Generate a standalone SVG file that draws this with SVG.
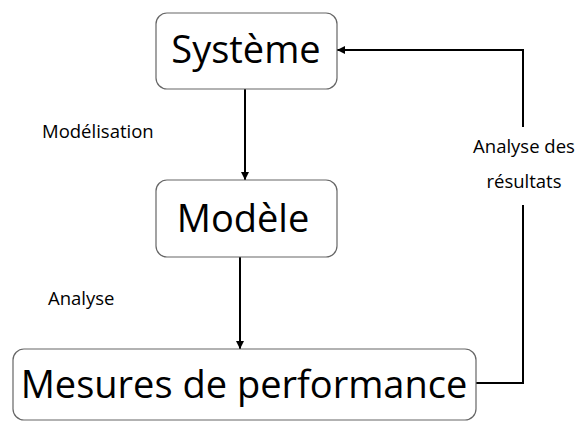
<svg xmlns="http://www.w3.org/2000/svg" width="579" height="421" viewBox="0 0 579 421">
  <style>
    .box { fill: #ffffff; stroke: #666666; stroke-width: 1.2; }
    .big { font-family: "Open Sans", "Noto Sans", sans-serif; font-size: 38px; fill: #000000; text-anchor: middle; }
    .lbl { font-family: "Open Sans", "Noto Sans", sans-serif; font-size: 18.5px; fill: #000000; }
    .edge { fill: none; stroke: #000000; stroke-width: 2; }
  </style>
  <defs>
    <marker id="arrow" viewBox="0 0 10 10" refX="10" refY="5" markerWidth="4" markerHeight="4" orient="auto" markerUnits="strokeWidth">
      <path d="M0,0 L10,5 L0,10 z" fill="#000000"/>
    </marker>
  </defs>
  <rect width="579" height="421" fill="#ffffff"/>

  <g id="connectors">
    <line class="edge" x1="245" y1="89" x2="245" y2="180" marker-end="url(#arrow)"/>
    <line class="edge" x1="240" y1="257" x2="240" y2="349" marker-end="url(#arrow)"/>
    <polyline class="edge" points="476,383 523,383 523,205"/>
    <polyline class="edge" points="523,127 523,50 337,50" marker-end="url(#arrow)"/>
  </g>

  <g id="systeme">
    <rect class="box" x="156" y="13" width="181" height="76" rx="11"/>
    <text class="big" x="246" y="63">Système</text>
  </g>
  <g id="modele">
    <rect class="box" x="156" y="180" width="181" height="77" rx="11"/>
    <text class="big" x="243" y="232">Modèle</text>
  </g>
  <g id="mesures">
    <rect class="box" x="13" y="349" width="463" height="71" rx="11"/>
    <text class="big" x="244" y="398">Mesures de performance</text>
  </g>

  <g id="labels">
    <text class="lbl" x="42" y="138">Modélisation</text>
    <text class="lbl" x="48" y="305">Analyse</text>
    <text class="lbl" x="524" y="153" text-anchor="middle">Analyse des</text>
    <text class="lbl" x="524" y="188" text-anchor="middle">résultats</text>
  </g>
</svg>
